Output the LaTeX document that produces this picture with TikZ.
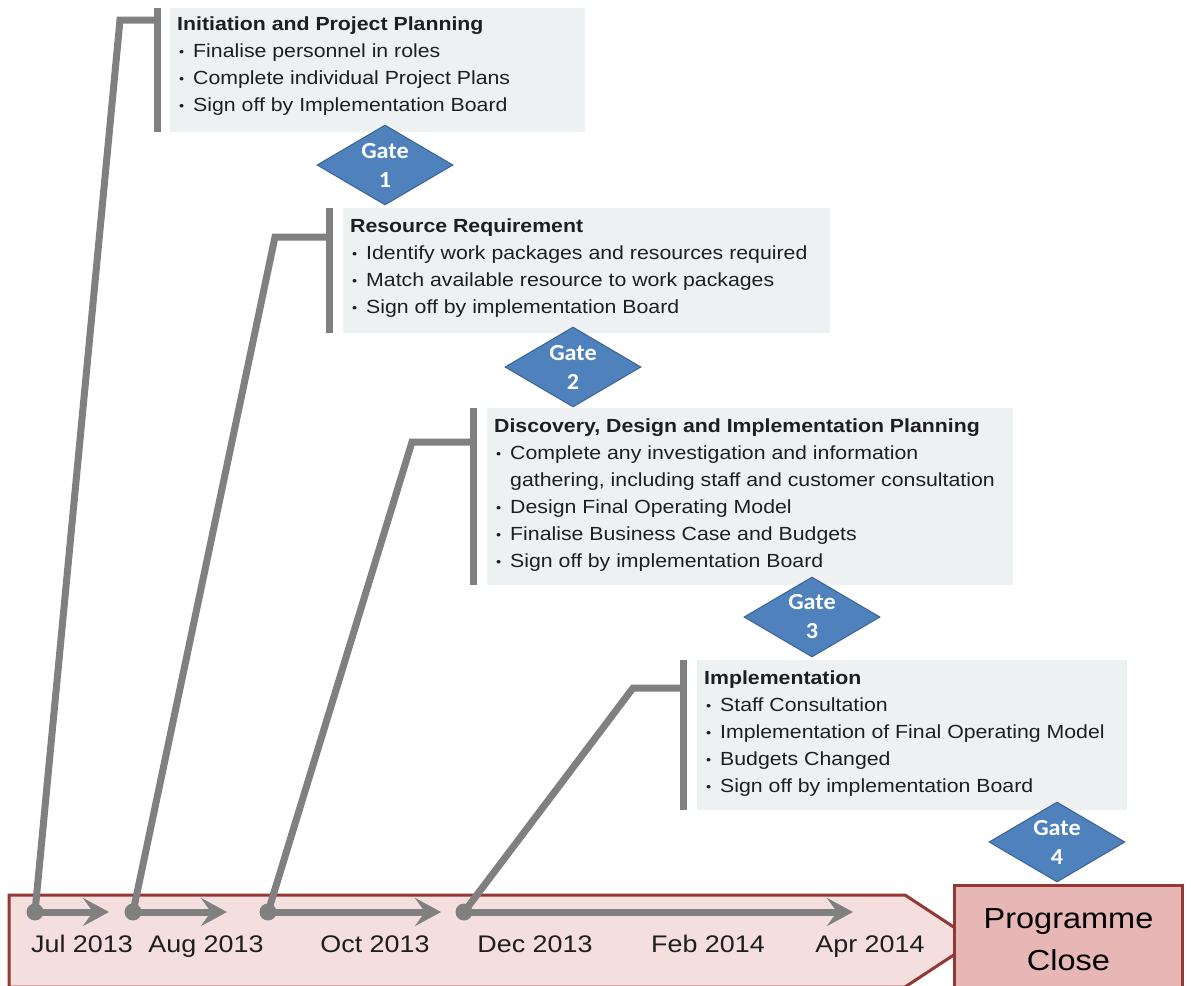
\documentclass[tikz,border=0pt]{standalone}
\usepackage{fontspec}
\setmainfont{Liberation Sans}[FakeStretch=1.12]
\newfontfamily\gatefont{Carlito}[FakeStretch=1.05]
\usetikzlibrary{shapes.geometric,arrows.meta}
\definecolor{phasefill}{RGB}{238,241,242}
\definecolor{linegray}{RGB}{128,128,128}
\definecolor{gateblue}{RGB}{79,129,189}
\definecolor{gateedge}{RGB}{60,98,145}
\definecolor{bandfill}{RGB}{244,222,222}
\definecolor{bandedge}{RGB}{149,55,53}
\definecolor{closefill}{RGB}{231,183,182}
\definecolor{inkgray}{RGB}{30,30,30}
\newcommand\itm{\makebox[16pt][l]{\hspace{2pt}\raisebox{1.5pt}{\fontsize{13}{13}\selectfont\textbullet}}}

\begin{document}
\begin{tikzpicture}[x=1pt,y=-1pt,
    phase/.style={fill=phasefill,anchor=north west,inner sep=0pt},
    phasetext/.style={anchor=north west,inner sep=0pt,align=left,text=inkgray,
        font=\fontsize{19}{27}\selectfont},
    gate/.style={diamond,fill=gateblue,draw=gateedge,line width=1pt,minimum width=136pt,
        minimum height=80pt,inner sep=-7pt,align=center,text=white,
        font=\gatefont\bfseries\fontsize{23}{29}\selectfont},
    bar/.style={draw=linegray,line width=7pt},
    link/.style={draw=linegray,line width=7pt,line join=miter},
    tick/.style={draw=linegray,line width=7pt,-{Stealth[length=26pt,width=28pt,inset=10pt]}},
    dot/.style={circle,fill=linegray,minimum size=17pt,inner sep=0pt},
    month/.style={anchor=base,font=\fontsize{24}{28}\selectfont,text=inkgray},
    band/.style={fill=bandfill,draw=bandedge,line width=3pt,line join=miter},
    closebox/.style={fill=closefill,draw=bandedge,line width=3pt,anchor=north west,
        minimum width=228pt,minimum height=108pt,align=center,text=black,
        font=\fontsize{29}{42}\selectfont}]
    \clip (0,0) rectangle (1191,985);
    \fill[white] (0,0) rectangle (1191,985);

    \draw[band] (9,895) -- (905,895) -- (975,941) -- (905,987) -- (9,987) -- cycle;
    \node[closebox] (close) at (953,884) {Programme\\Close};

    \node[month] (jul) at (82,952) {Jul 2013};
    \node[month] (aug) at (206,952) {Aug 2013};
    \node[month] (oct) at (375,952) {Oct 2013};
    \node[month] (dec) at (535,952) {Dec 2013};
    \node[month] (feb) at (708,952) {Feb 2014};
    \node[month] (apr) at (870,952) {Apr 2014};

    \node[phase,minimum width=415pt,minimum height=124pt] (p1) at (170,8) {};
    \node[phase,minimum width=487pt,minimum height=125pt] (p2) at (343,208) {};
    \node[phase,minimum width=526pt,minimum height=177pt] (p3) at (487,408) {};
    \node[phase,minimum width=430pt,minimum height=150pt] (p4) at (697,660) {};

    \node[phasetext] (t1) at ([shift={(7,9)}]p1.north west)
        {\textbf{Initiation and Project Planning}\\
         \itm Finalise personnel in roles\\
         \itm Complete individual Project Plans\\
         \itm Sign off by Implementation Board};
    \node[phasetext] (t2) at ([shift={(7,11)}]p2.north west)
        {\textbf{Resource Requirement}\\
         \itm Identify work packages and resources required\\
         \itm Match available resource to work packages\\
         \itm Sign off by implementation Board};
    \node[phasetext] (t3) at ([shift={(7,11)}]p3.north west)
        {\textbf{Discovery, Design and Implementation Planning}\\
         \itm Complete any investigation and information\\
         \hspace*{16pt}gathering, including staff and customer consultation\\
         \itm Design Final Operating Model\\
         \itm Finalise Business Case and Budgets\\
         \itm Sign off by implementation Board};
    \node[phasetext] (t4) at ([shift={(7,11)}]p4.north west)
        {\textbf{Implementation}\\
         \itm Staff Consultation\\
         \itm Implementation of Final Operating Model\\
         \itm Budgets Changed\\
         \itm Sign off by implementation Board};

    \draw[bar] ([xshift=-13pt]p1.north west) -- ([xshift=-13pt]p1.south west);
    \draw[bar] ([xshift=-14pt]p2.north west) -- ([xshift=-14pt]p2.south west);
    \draw[bar] ([xshift=-14pt]p3.north west) -- ([xshift=-14pt]p3.south west);
    \draw[bar] ([xshift=-14pt]p4.north west) -- ([xshift=-14pt]p4.south west);

    \coordinate (j1) at ([shift={(-13,12)}]p1.north west);
    \coordinate (j2) at ([shift={(-14,29)}]p2.north west);
    \coordinate (j3) at ([shift={(-14,34)}]p3.north west);
    \coordinate (j4) at ([shift={(-14,28)}]p4.north west);
    \coordinate (k1) at (120,20);
    \coordinate (k2) at (275,237);
    \coordinate (k3) at (412,442);
    \coordinate (k4) at (633,688);

    \node[dot] (d1) at (35,912) {};
    \node[dot] (d2) at (133,912) {};
    \node[dot] (d3) at (268,912) {};
    \node[dot] (d4) at (464,912) {};
    \coordinate (e1) at (109,912);
    \coordinate (e2) at (227,912);
    \coordinate (e3) at (441,912);
    \coordinate (e4) at (853,912);

    \draw[link] (d1.center) -- (k1) -- (j1);
    \draw[link] (d2.center) -- (k2) -- (j2);
    \draw[link] (d3.center) -- (k3) -- (j3);
    \draw[link] (d4.center) -- (k4) -- (j4);
    \draw[tick] (d1.center) -- (e1);
    \draw[tick] (d2.center) -- (e2);
    \draw[tick] (d3.center) -- (e3);
    \draw[tick] (d4.center) -- (e4);

    \node[gate] (g1) at (385,165) {Gate\\1};
    \node[gate] (g2) at (573,367) {Gate\\2};
    \node[gate] (g3) at (812,617) {Gate\\3};
    \node[gate] (g4) at (1057,842) {Gate\\4};
\end{tikzpicture}
\end{document}
